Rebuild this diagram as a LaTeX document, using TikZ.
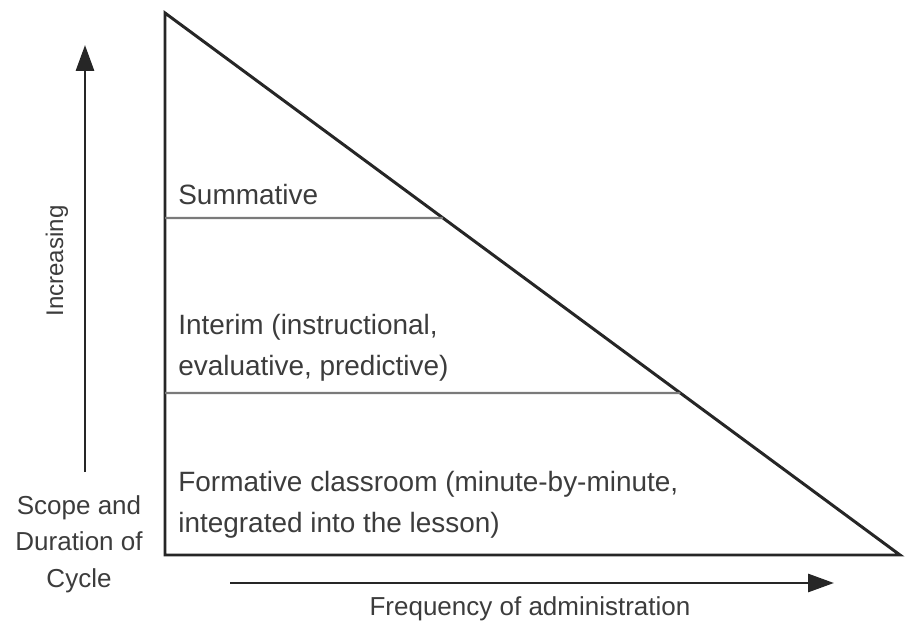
\documentclass[tikz,border=0pt]{standalone}
\usepackage{fontspec}
\setmainfont{Liberation Sans}
\usetikzlibrary{arrows.meta, positioning, calc}
\definecolor{EdgeLine}{HTML}{262626}
\definecolor{BandLine}{HTML}{7A7A7A}
\definecolor{LabelText}{HTML}{3C3C3C}

\begin{document}
\begin{tikzpicture}[
    x=0.02cm, y=-0.02cm,
    edge/.style={draw=EdgeLine, line width=1.7pt, line join=miter},
    band/.style={draw=BandLine, line width=1.3pt},
    level/.style={
        anchor=base west, align=left, inner sep=0pt, text=LabelText,
        font=\fontsize{15.9}{22.8}\selectfont
    },
    axis/.style={
        align=center, inner sep=0pt, text=LabelText,
        font=\fontsize{14.8}{20.5}\selectfont
    },
    arr/.style={-{Triangle[length=0.52cm, width=0.36cm]}, draw=EdgeLine,
        line width=1.7pt}
]
\useasboundingbox (0,0) rectangle (907,625);

% ===================================================================
% TRIANGLE
% ===================================================================
\coordinate (top) at (165,13);
\coordinate (bl) at (165,555);
\coordinate (br) at (900,555);

\draw[edge] (top) -- (bl) -- (br) -- cycle;

% band borders
\coordinate (sumL) at (165,218);
\coordinate (sumR) at ($(top)!0.3782!(br)$);
\coordinate (intL) at (165,393);
\coordinate (intR) at ($(top)!0.7011!(br)$);

\draw[band] (sumL) -- (sumR);
\draw[band] (intL) -- (intR);

% ===================================================================
% LEVELS (base = last line)
% ===================================================================
\node[level] (summ) at (178,205) {Summative};
\node[level] (interim) at (178,375)
    {Interim (instructional,\\evaluative, predictive)};
\node[level] (form) at (178,532)
    {Formative classroom (minute-by-minute,\\integrated into the lesson)};

% ===================================================================
% AXES
% ===================================================================
\coordinate (up0) at (85,472);
\coordinate (up1) at (85,45);
\draw[arr] (up0) -- (up1);
\node[axis, rotate=90, font=\fontsize{13.7}{16}\selectfont]
    (incr) at (57,261) {Increasing};
\node[axis, anchor=base] (scope) at (79,587)
    {Scope and\\Duration of\\Cycle};

\coordinate (rt0) at (230,583);
\coordinate (rt1) at (834,583);
\draw[arr] (rt0) -- (rt1);
\node[axis, anchor=base] (freq) at (530,615) {Frequency of administration};

\end{tikzpicture}
\end{document}
